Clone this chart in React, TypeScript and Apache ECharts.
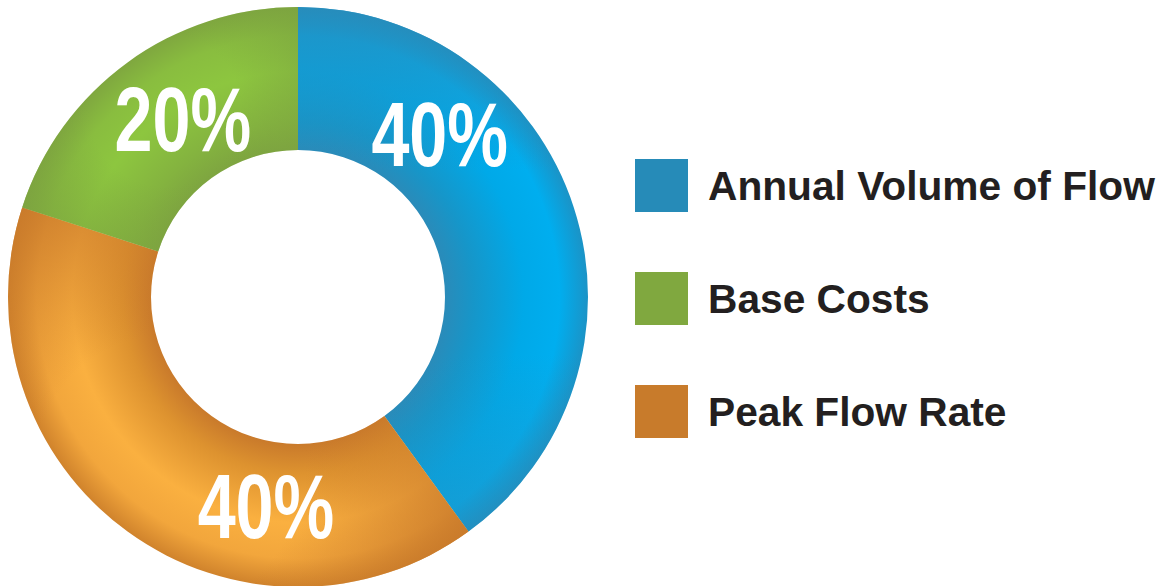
import React, { useEffect, useRef } from "react";
import * as echarts from "echarts";

const categories = ["Annual Volume of Flow", "Peak Flow Rate", "Base Costs"];
const values = [40, 40, 20];
const legendOrder = ["Annual Volume of Flow", "Base Costs", "Peak Flow Rate"];
const legendColors: Record<string, string> = {
  "Annual Volume of Flow": "#268bb8",
  "Base Costs": "#80a83f",
  "Peak Flow Rate": "#c87b2b",
};
// [inner edge, inner band, band middle, outer band, outer edge]
const sliceStops = [
  ["#2a8bb9", "#1696c9", "#00a9e8", "#00aeef", "#1b93c6"],
  ["#c97a2b", "#dd922f", "#fab040", "#f2a63c", "#d0832c"],
  ["#7ea540", "#84b33f", "#8dc63f", "#89bd3f", "#7fa73f"],
];
// label placement (angle in degrees, radius in px)
const labelAngles = [49.0, -98.7, 122.9];
const labelRadii = [216, 212, 212];

const CX = 298;
const CY = 297;
const R_OUT = 290;
const R_IN = 147;

export default function App() {
  const ref = useRef<HTMLDivElement>(null);
  useEffect(() => {
    if (!ref.current) return;
    const chart = echarts.init(ref.current, null, { renderer: "svg" });
    const f = R_IN / R_OUT;
    const w = 1 - f;
    const total = values.reduce((a, b) => a + b, 0);
    const data = categories.map((name, i) => ({
      name,
      value: values[i],
      itemStyle: {
        color: {
          type: "radial",
          x: CX,
          y: CY,
          r: R_OUT,
          global: true,
          colorStops: [
            { offset: 0, color: sliceStops[i][0] },
            { offset: f, color: sliceStops[i][0] },
            { offset: f + w * 0.2, color: sliceStops[i][1] },
            { offset: f + w * 0.55, color: sliceStops[i][2] },
            { offset: f + w * 0.8, color: sliceStops[i][3] },
            { offset: 1, color: sliceStops[i][4] },
          ],
        },
      },
    }));
    // shading overlays (angular darkening toward slice edges)
    const overlays = [
      {
        type: "linear",
        x: 0, y: 8, x2: 0, y2: 586,
        global: true,
        colorStops: [
          { offset: 0, color: "rgba(42,139,185,0.8)" },
          { offset: 0.28, color: "rgba(42,139,185,0)" },
          { offset: 0.6, color: "rgba(42,139,185,0)" },
          { offset: 0.92, color: "rgba(42,139,185,0.55)" },
          { offset: 1, color: "rgba(42,139,185,0.6)" },
        ],
      },
      {
        type: "radial",
        x: 170, y: 470, r: 300,
        global: true,
        colorStops: [
          { offset: 0, color: "rgba(201,122,43,0)" },
          { offset: 0.45, color: "rgba(201,122,43,0)" },
          { offset: 1, color: "rgba(201,122,43,0.85)" },
        ],
      },
      {
        type: "radial",
        x: 165, y: 110, r: 190,
        global: true,
        colorStops: [
          { offset: 0, color: "rgba(124,163,64,0)" },
          { offset: 0.4, color: "rgba(124,163,64,0)" },
          { offset: 1, color: "rgba(124,163,64,0.85)" },
        ],
      },
    ];
    const overlayData = categories.map((name, i) => ({
      name,
      value: values[i],
      itemStyle: { color: overlays[i] },
    }));
    const labels = categories.map((_, i) => {
      const a = (labelAngles[i] * Math.PI) / 180;
      return {
        type: "text",
        x: CX + labelRadii[i] * Math.cos(a),
        y: CY - labelRadii[i] * Math.sin(a),
        scaleX: 0.75,
        silent: true,
        z: 10,
        style: {
          text: `${Math.round((values[i] / total) * 100)}%`,
          fill: "#ffffff",
          font: "bold 91px 'Liberation Sans', Arial, sans-serif",
          align: "center",
          verticalAlign: "middle",
        },
      };
    });
    const pieBase = {
      type: "pie",
      center: [CX, CY],
      radius: [R_IN, R_OUT],
      startAngle: 90,
      clockwise: true,
      silent: true,
      emphasis: { disabled: true },
      label: { show: false },
      labelLine: { show: false },
    };
    chart.setOption({
      animation: false,
      backgroundColor: "#ffffff",
      legend: {
        orient: "vertical",
        left: 635,
        top: 159,
        padding: 0,
        itemWidth: 53,
        itemHeight: 53,
        itemGap: 60,
        icon: "rect",
        selectedMode: false,
        data: legendOrder.map((n) => ({
          name: n,
          itemStyle: { color: legendColors[n] },
        })),
        textStyle: {
          fontFamily: "Liberation Sans",
          fontWeight: "bold",
          fontSize: 40.7,
          color: "#231f20",
          padding: [4, 0, 0, 15],
        },
      },
      graphic: labels,
      series: [
        { ...pieBase, id: "base", itemStyle: { borderWidth: 0 }, data },
        { ...pieBase, id: "shade", z: 3, itemStyle: { borderWidth: 0 }, data: overlayData },
      ],
    });
    return () => chart.dispose();
  }, []);
  return (
    <div
      ref={ref}
      style={{ position: "absolute", left: 0, top: 0, width: 1167, height: 586 }}
    />
  );
}
